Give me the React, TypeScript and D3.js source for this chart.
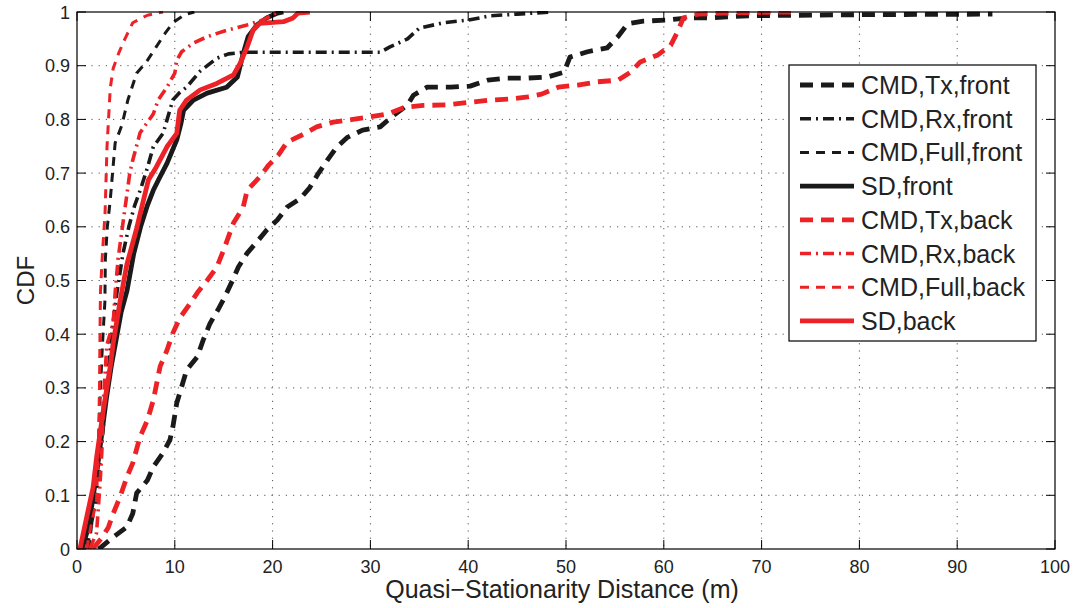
import React from "react";
import * as d3 from "d3";

const W = 1077;
const H = 608;
const M = { left: 77, top: 12, right: 22, bottom: 59 };

const xTicks = [0, 10, 20, 30, 40, 50, 60, 70, 80, 90, 100];
const yTicks = [0, 0.1, 0.2, 0.3, 0.4, 0.5, 0.6, 0.7, 0.8, 0.9, 1];
const yTickLabels = ["0", "0.1", "0.2", "0.3", "0.4", "0.5", "0.6", "0.7", "0.8", "0.9", "1"];

// CMD,Tx,front
const txFrontX = [2.2, 2.5, 3.7, 5.1, 5.7, 6.1, 7.2, 7.8, 8.8, 9.5, 9.8, 10.2, 10.7, 11.2, 12.3, 12.9, 13.6, 14.4, 15.1, 15.9, 16.5, 17.4, 18.4, 19.4, 20.5, 21.5, 22.8, 23.8, 24.7, 25.6, 26.5, 27.6, 29.2, 31, 32.2, 33.8, 34.4, 35.8, 38.2, 40.2, 42, 44, 46.1, 48.1, 49.8, 50.4, 52.2, 54.2, 55.3, 56.3, 57.9, 60.4, 62.4, 64.5, 66.5, 68.6, 80, 93.6];
const txFrontY = [0, 0.004, 0.022, 0.041, 0.066, 0.104, 0.128, 0.153, 0.179, 0.203, 0.227, 0.272, 0.302, 0.333, 0.358, 0.389, 0.42, 0.445, 0.469, 0.5, 0.525, 0.551, 0.572, 0.594, 0.613, 0.637, 0.652, 0.673, 0.7, 0.724, 0.747, 0.766, 0.78, 0.786, 0.805, 0.827, 0.845, 0.86, 0.86, 0.862, 0.873, 0.877, 0.877, 0.879, 0.888, 0.916, 0.926, 0.933, 0.954, 0.978, 0.983, 0.985, 0.989, 0.989, 0.991, 0.993, 0.995, 0.996];

// CMD,Rx,front
const rxFrontX = [1.0, 1.5, 2.0, 2.4, 2.8, 3.2, 3.6, 4.1, 4.7, 5.3, 5.9, 6.5, 7.2, 7.8, 8.8, 9.8, 10.5, 11.2, 12.6, 14.3, 15.5, 17, 25, 31, 32, 33.8, 35, 37.5, 40, 42.3, 45, 48.5];
const rxFrontY = [0, 0.05, 0.1, 0.17, 0.25, 0.33, 0.41, 0.48, 0.55, 0.6, 0.64, 0.67, 0.71, 0.749, 0.774, 0.836, 0.85, 0.86, 0.89, 0.914, 0.922, 0.925, 0.925, 0.925, 0.935, 0.95, 0.97, 0.98, 0.985, 0.993, 0.996, 1];

// CMD,Full,front
const fullFrontX = [1.2, 1.6, 1.9, 2.2, 2.4, 2.6, 2.85, 2.9, 3.1, 3.4, 3.9, 4.6, 5.2, 6.1, 7.1, 8.1, 9.0, 9.8, 11, 12];
const fullFrontY = [0, 0.06, 0.12, 0.2, 0.3, 0.38, 0.46, 0.54, 0.6, 0.65, 0.756, 0.79, 0.836, 0.886, 0.907, 0.935, 0.96, 0.98, 0.995, 1];

// SD,front
const sdFrontX = [0.5, 1.0, 1.5, 2.0, 2.5, 3.0, 3.5, 4.0, 4.5, 5.1, 5.8, 6.5, 7.2, 7.8, 8.4, 9.2, 9.7, 10.2, 10.6, 10.9, 11.9, 13.3, 15.3, 16.4, 17, 17.5, 18.4, 19.4, 20.5, 21.1];
const sdFrontY = [0, 0.03, 0.08, 0.14, 0.21, 0.28, 0.34, 0.39, 0.44, 0.48, 0.55, 0.6, 0.64, 0.668, 0.69, 0.718, 0.74, 0.762, 0.79, 0.817, 0.836, 0.849, 0.86, 0.879, 0.923, 0.954, 0.976, 0.989, 0.998, 1];

// CMD,Tx,back
const txBackX = [1.6, 2.5, 3.2, 3.7, 4.4, 5.1, 5.7, 6.45, 7.2, 7.8, 8.5, 9.2, 9.8, 10.5, 11.6, 12.3, 13.3, 14.3, 15, 16, 17, 17.4, 18.7, 19.6, 20.6, 21.5, 23, 24.5, 26.2, 28.2, 30, 31.7, 33.6, 35.4, 37.9, 40.2, 42.3, 44.3, 46.1, 47.5, 49.2, 51.2, 53.2, 55.3, 56.6, 57.6, 59.4, 60.7, 61.4, 62, 63.5, 66.1, 73];
const txBackY = [0, 0.02, 0.04, 0.066, 0.097, 0.134, 0.16, 0.209, 0.24, 0.277, 0.34, 0.37, 0.402, 0.43, 0.458, 0.477, 0.5, 0.525, 0.557, 0.607, 0.637, 0.668, 0.693, 0.715, 0.734, 0.758, 0.771, 0.786, 0.795, 0.8, 0.805, 0.81, 0.823, 0.826, 0.827, 0.832, 0.836, 0.838, 0.842, 0.847, 0.86, 0.864, 0.87, 0.873, 0.888, 0.907, 0.92, 0.938, 0.963, 0.989, 0.996, 0.998, 1];

// CMD,Rx,back
const rxBackX = [1.3, 2.0, 2.35, 2.55, 2.7, 3.05, 3.7, 3.9, 4.2, 4.7, 5.1, 5.4, 5.7, 6.45, 7.8, 8.3, 9.2, 10.0, 10.2, 10.7, 11.9, 13.3, 15.3, 17.4, 19, 20.5];
const rxBackY = [0, 0.03, 0.12, 0.185, 0.277, 0.38, 0.42, 0.477, 0.54, 0.607, 0.66, 0.7, 0.724, 0.775, 0.81, 0.836, 0.86, 0.886, 0.91, 0.926, 0.942, 0.954, 0.966, 0.976, 0.985, 1];

// CMD,Full,back
const fullBackX = [1.0, 1.5, 2.0, 2.2, 2.3, 2.35, 2.4, 2.6, 2.87, 3.07, 3.4, 3.7, 4.3, 4.9, 5.7, 7.2, 8.8];
const fullBackY = [0, 0.05, 0.09, 0.2, 0.3, 0.4, 0.48, 0.55, 0.626, 0.75, 0.858, 0.895, 0.925, 0.95, 0.98, 0.994, 1];

// SD,back
const sdBackX = [0.3, 1.0, 1.65, 2.0, 2.7, 3.4, 3.7, 4.4, 5.1, 6.1, 6.8, 7.3, 8.1, 9.2, 10.2, 10.5, 11.2, 12.6, 14.3, 16, 16.7, 17.4, 18, 18.7, 21.1, 22.1, 22.6, 23.8];
const sdBackY = [0, 0.06, 0.115, 0.17, 0.259, 0.34, 0.383, 0.461, 0.53, 0.597, 0.65, 0.687, 0.711, 0.749, 0.774, 0.817, 0.836, 0.855, 0.867, 0.883, 0.905, 0.935, 0.966, 0.979, 0.982, 0.989, 0.998, 1];

const seriesNames = ["CMD,Tx,front", "CMD,Rx,front", "CMD,Full,front", "SD,front", "CMD,Tx,back", "CMD,Rx,back", "CMD,Full,back", "SD,back"];

const BLACK = "#1a1a1a";
const RED = "#ec2227";

type Style = { color: string; width: number; dash: string | null };
const styleTx = (c: string): Style => ({ color: c, width: 4.8, dash: "13,8" });
const styleRx = (c: string): Style => ({ color: c, width: 3.6, dash: "11,5,2,5" });
const styleFull = (c: string): Style => ({ color: c, width: 3, dash: "9,7" });
const styleSd = (c: string): Style => ({ color: c, width: 4.8, dash: null });

const seriesData = [
  { xs: txFrontX, ys: txFrontY, st: styleTx(BLACK) },
  { xs: rxFrontX, ys: rxFrontY, st: styleRx(BLACK) },
  { xs: fullFrontX, ys: fullFrontY, st: styleFull(BLACK) },
  { xs: sdFrontX, ys: sdFrontY, st: styleSd(BLACK) },
  { xs: txBackX, ys: txBackY, st: styleTx(RED) },
  { xs: rxBackX, ys: rxBackY, st: styleRx(RED) },
  { xs: fullBackX, ys: fullBackY, st: styleFull(RED) },
  { xs: sdBackX, ys: sdBackY, st: styleSd(RED) },
];

const FONT = "'Liberation Sans', Arial, Helvetica, sans-serif";
const TEXT = "#222";

export default function App() {
  const pw = W - M.left - M.right;
  const ph = H - M.top - M.bottom;
  const x = d3.scaleLinear().domain([0, 100]).range([M.left, M.left + pw]);
  const y = d3.scaleLinear().domain([0, 1]).range([M.top + ph, M.top]);
  const line = d3
    .line<[number, number]>()
    .x((d) => x(d[0]))
    .y((d) => y(d[1]));

  const tickLen = 9;
  const legX = 789;
  const legY = 65;
  const legW = 247;
  const legH = 276;
  const rowH = 33.7;

  return (
    <svg
      width={W}
      height={H}
      style={{ position: "absolute", left: 0, top: 0, display: "block", background: "#fff" }}
    >
      <defs>
        <clipPath id="plotclip">
          <rect x={M.left} y={M.top - 1} width={pw} height={ph + 1} />
        </clipPath>
      </defs>
      <rect x={0} y={0} width={W} height={H} fill="#fff" />
      {/* grid */}
      <g stroke="#555" strokeWidth={1} strokeDasharray="1.2,6" fill="none">
        {xTicks.slice(1, -1).map((t) => (
          <line key={"gx" + t} x1={x(t)} x2={x(t)} y1={M.top} y2={M.top + ph} />
        ))}
        {yTicks.slice(1, -1).map((t) => (
          <line key={"gy" + t} x1={M.left} x2={M.left + pw} y1={y(t)} y2={y(t)} />
        ))}
      </g>
      {/* curves */}
      <g clipPath="url(#plotclip)" fill="none" strokeLinejoin="round">
        {seriesData.map((s, i) => (
          <path
            key={"s" + i}
            d={line(s.xs.map((v, j) => [v, s.ys[j]] as [number, number])) || ""}
            stroke={s.st.color}
            strokeWidth={s.st.width}
            strokeDasharray={s.st.dash || undefined}
          />
        ))}
      </g>
      {/* frame */}
      <rect x={M.left} y={M.top} width={pw} height={ph} fill="none" stroke="#000" strokeWidth={1.2} />
      {/* ticks */}
      <g stroke="#000" strokeWidth={1}>
        {xTicks.map((t) => (
          <g key={"tx" + t}>
            <line x1={x(t)} x2={x(t)} y1={M.top + ph} y2={M.top + ph - tickLen} />
            <line x1={x(t)} x2={x(t)} y1={M.top} y2={M.top + tickLen} />
          </g>
        ))}
        {yTicks.map((t) => (
          <g key={"ty" + t}>
            <line x1={M.left} x2={M.left + tickLen} y1={y(t)} y2={y(t)} />
            <line x1={M.left + pw} x2={M.left + pw - tickLen} y1={y(t)} y2={y(t)} />
          </g>
        ))}
      </g>
      {/* tick labels */}
      <g fontFamily={FONT} fontSize={18} fill={TEXT}>
        {xTicks.map((t) => (
          <text key={"lx" + t} x={x(t)} y={M.top + ph + 24} textAnchor="middle">
            {String(t)}
          </text>
        ))}
        {yTicks.map((t, i) => (
          <text key={"ly" + t} x={M.left - 7} y={y(t) + 6.5} textAnchor="end">
            {yTickLabels[i]}
          </text>
        ))}
      </g>
      {/* axis labels */}
      <text
        x={M.left + pw / 2 - 4}
        y={598}
        textAnchor="middle"
        fontFamily={FONT}
        fontSize={25}
        fill={TEXT}
      >
        Quasi−Stationarity Distance (m)
      </text>
      <text
        transform={`translate(34,${M.top + ph / 2}) rotate(-90)`}
        textAnchor="middle"
        fontFamily={FONT}
        fontSize={24}
        fill={TEXT}
      >
        CDF
      </text>
      {/* legend */}
      <g>
        <rect x={legX} y={legY} width={legW} height={legH} fill="#fff" stroke="#000" strokeWidth={1.2} />
        {seriesNames.map((n, i) => {
          const cy = legY + 20 + i * rowH;
          const st = seriesData[i].st;
          return (
            <g key={"lg" + i}>
              <line
                x1={800}
                x2={854}
                y1={cy}
                y2={cy}
                stroke={st.color}
                strokeWidth={st.width}
                strokeDasharray={st.dash || undefined}
              />
              <text x={861} y={cy + 9} fontFamily={FONT} fontSize={25} fill={TEXT}>
                {n}
              </text>
            </g>
          );
        })}
      </g>
    </svg>
  );
}
